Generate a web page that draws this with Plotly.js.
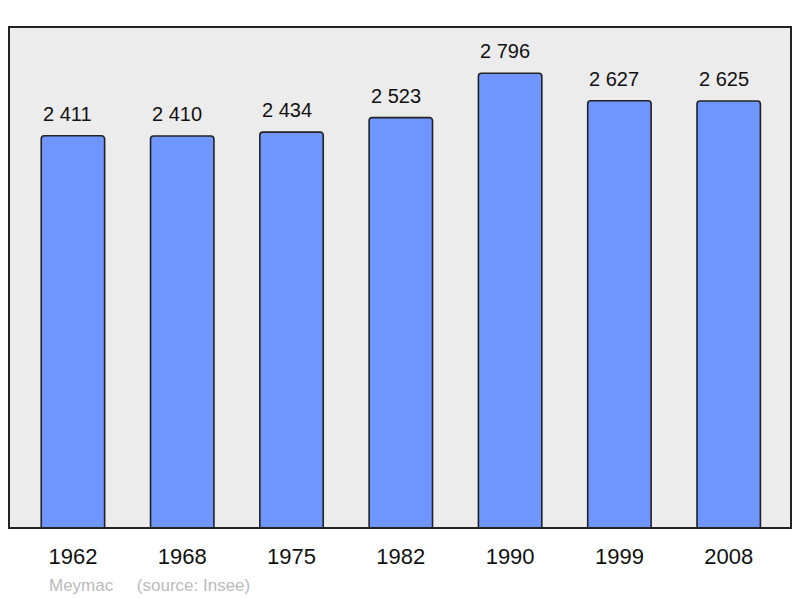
<!DOCTYPE html>
<html><head><meta charset="utf-8">
<script src="https://cdn.plot.ly/plotly-3.0.1.min.js"></script>
<style>html,body{margin:0;padding:0;background:#fff}#c{width:800px;height:598px}</style>
</head><body><div id="c"></div>
<script>
var years = ['1962','1968','1975','1982','1990','1999','2008'];
var population = [2411, 2410, 2434, 2523, 2796, 2627, 2625];
var valueLabels = ['2 411','2 410','2 434','2 523','2 796','2 627','2 625'];
var sourceText = 'Meymac\u00a0\u00a0\u00a0\u00a0\u00a0(source: Insee)';

var trace = {
  type: 'bar', x: years, y: population, width: 0.58,
  marker: {color: '#6f96ff', line: {color: '#222', width: 1.6}, cornerradius: 3},
  hoverinfo: 'none'
};
var annotations = years.map(function(y, i){
  return {x: i, y: population[i], xref: 'x', yref: 'y', text: valueLabels[i],
    showarrow: false, yanchor: 'bottom', yshift: 9, xshift: -5,
    font: {family: 'Liberation Sans, Arial, sans-serif', size: 20, color: '#111'}};
});
annotations.push({xref: 'paper', yref: 'paper', x: 0.049, y: -0.114, xanchor: 'left', yanchor: 'middle',
  text: sourceText, showarrow: false,
  font: {family: 'Liberation Sans, Arial, sans-serif', size: 17, color: '#bbbbbb'}});

var layout = {
  width: 800, height: 598,
  margin: {l: 9, r: 9, t: 27, b: 70},
  paper_bgcolor: '#ffffff', plot_bgcolor: '#ececec',
  showlegend: false,
  xaxis: {type: 'category', range: [-0.585, 6.57], showgrid: false, zeroline: false,
    showline: false, ticks: '', ticklabelstandoff: 13,
    tickfont: {family: 'Liberation Sans, Arial, sans-serif', size: 22, color: '#111'}},
  yaxis: {range: [0, 3080], showgrid: false, zeroline: false, showticklabels: false, ticks: ''},
  shapes: [{type: 'rect', xref: 'paper', yref: 'paper', x0: 0, x1: 1, y0: 0, y1: 1,
    line: {color: '#222', width: 2}}],
  annotations: annotations
};
Plotly.newPlot('c', [trace], layout, {staticPlot: true, displayModeBar: false});
</script></body></html>
